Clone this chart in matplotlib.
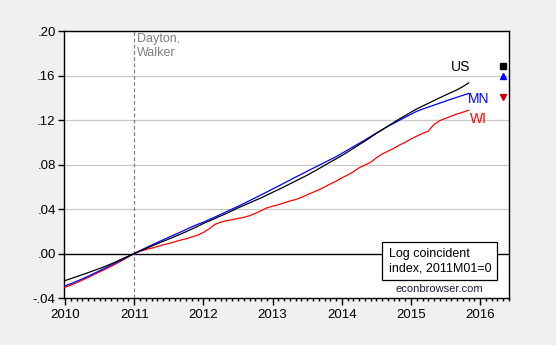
import numpy as np
import matplotlib
matplotlib.use("Agg")
import matplotlib.pyplot as plt
from matplotlib.ticker import FixedLocator, FuncFormatter
from matplotlib.patches import Rectangle

plt.rcParams['font.family'] = ['Liberation Sans', 'DejaVu Sans']

# Log coincident indexes, monthly 2010M01-2015M11, normalised so 2011M01 = 0
us = [
    -0.0243, -0.0226, -0.0208, -0.0190, -0.0172, -0.0153, -0.0135, -0.0115, -0.0093, -0.0070, -0.0046, -0.0023,
    0.0000, 0.0022, 0.0044, 0.0066, 0.0088, 0.0109, 0.0130, 0.0152, 0.0174, 0.0196, 0.0220, 0.0244,
    0.0270, 0.0292, 0.0315, 0.0338, 0.0360, 0.0385, 0.0410, 0.0432, 0.0455, 0.0478, 0.0500, 0.0525,
    0.0550, 0.0574, 0.0600, 0.0626, 0.0652, 0.0678, 0.0704, 0.0733, 0.0762, 0.0792, 0.0822, 0.0851,
    0.0880, 0.0912, 0.0945, 0.0978, 0.1010, 0.1045, 0.1080, 0.1112, 0.1145, 0.1178, 0.1210, 0.1240,
    0.1270, 0.1300, 0.1325, 0.1350, 0.1375, 0.1400, 0.1425, 0.1448, 0.1472, 0.1500, 0.1534,
]
mn = [
    -0.0290, -0.0272, -0.0250, -0.0228, -0.0205, -0.0180, -0.0155, -0.0130, -0.0104, -0.0078, -0.0052, -0.0026,
    0.0000, 0.0026, 0.0051, 0.0075, 0.0099, 0.0123, 0.0146, 0.0169, 0.0192, 0.0216, 0.0240, 0.0262,
    0.0282, 0.0305, 0.0328, 0.0352, 0.0376, 0.0400, 0.0424, 0.0449, 0.0475, 0.0501, 0.0527, 0.0553,
    0.0580, 0.0606, 0.0633, 0.0660, 0.0687, 0.0713, 0.0740, 0.0766, 0.0792, 0.0818, 0.0844, 0.0870,
    0.0900, 0.0930, 0.0960, 0.0990, 0.1020, 0.1052, 0.1083, 0.1113, 0.1143, 0.1170, 0.1198, 0.1225,
    0.1252, 0.1278, 0.1298, 0.1316, 0.1334, 0.1352, 0.1370, 0.1388, 0.1405, 0.1422, 0.1438,
]
wi = [
    -0.0303, -0.0285, -0.0262, -0.0240, -0.0215, -0.0190, -0.0165, -0.0140, -0.0115, -0.0088, -0.0060, -0.0030,
    0.0000, 0.0020, 0.0035, 0.0048, 0.0062, 0.0078, 0.0090, 0.0105, 0.0120, 0.0132, 0.0150, 0.0165,
    0.0190, 0.0222, 0.0262, 0.0282, 0.0295, 0.0305, 0.0315, 0.0325, 0.0340, 0.0360, 0.0385, 0.0410,
    0.0425, 0.0438, 0.0455, 0.0472, 0.0485, 0.0505, 0.0528, 0.0550, 0.0572, 0.0598, 0.0625, 0.0650,
    0.0680, 0.0705, 0.0735, 0.0770, 0.0795, 0.0820, 0.0860, 0.0895, 0.0920, 0.0945, 0.0975, 0.1000,
    0.1030, 0.1055, 0.1080, 0.1100, 0.1160, 0.1195, 0.1215, 0.1235, 0.1255, 0.1270, 0.1288,
]
months = 2010 + np.arange(len(us)) / 12.0

# six-month-ahead forecast points, 2016M05
fc_date = 2016 + 4 / 12.0
fc_us, fc_mn, fc_wi = 0.169, 0.160, 0.1407

years = [2010, 2011, 2012, 2013, 2014, 2015, 2016]
yticks = [-0.04, 0.00, 0.04, 0.08, 0.12, 0.16, 0.20]

fig = plt.figure(figsize=(5.56, 3.45), dpi=100, facecolor='#F0F0F0')
ax = fig.add_axes([0.1151, 0.1362, 0.8004, 0.7739])
ax.set_facecolor('white')

ax.set_xlim(2010 - 0.015, 2016 + 5 / 12.0)
ax.set_ylim(-0.04, 0.20)

# horizontal grid, zero line and the Jan 2011 marker
for yv in yticks[2:]:
    ax.axhline(yv, color='#C8C8C8', lw=0.9, zorder=1)
ax.axhline(0, color='black', lw=1.0, zorder=2)
ax.axvline(2011, color='#808080', lw=0.9, ls=(0, (3, 2)), zorder=2)

ax.plot(months, wi, color='#FF0000', lw=0.9, zorder=3)
ax.plot(months, mn, color='#0000FF', lw=0.9, zorder=4)
ax.plot(months, us, color='black', lw=0.9, zorder=5)

ax.plot([fc_date], [fc_us], marker='s', color='black', ms=3.8, ls='none')
ax.plot([fc_date], [fc_mn], marker='^', color='#0000FF', ms=4.2, ls='none')
ax.plot([fc_date], [fc_wi], marker='v', color='#CC0000', ms=4.2, ls='none')

ax.text(2015.71, 0.1675, 'US', color='black', fontsize=10, ha='center', va='center')
ax.text(2015.98, 0.1387, 'MN', color='#0000FF', fontsize=10, ha='center', va='center')
ax.text(2015.98, 0.121, 'WI', color='#FF0000', fontsize=10, ha='center', va='center')

ax.text(2011.04, 0.198, 'Dayton,\nWalker', color='#808080', fontsize=9,
        ha='left', va='top', linespacing=1.15)

# note box
box = Rectangle((0.715, 0.068), 0.258, 0.142, transform=ax.transAxes,
                facecolor='white', edgecolor='black', lw=0.9, zorder=6)
ax.add_patch(box)
ax.text(0.731, 0.139, 'Log coincident\nindex, 2011M01=0', transform=ax.transAxes,
        fontsize=9, ha='left', va='center', linespacing=1.25, zorder=7)
ax.text(0.843, 0.034, 'econbrowser.com', transform=ax.transAxes,
        fontsize=8, ha='center', va='center', color='#1A1A40', zorder=7)

# axes styling
for s in ax.spines.values():
    s.set_color('black')
    s.set_linewidth(1.0)

ax.xaxis.set_major_locator(FixedLocator(years))
ax.xaxis.set_minor_locator(FixedLocator(2010 + np.arange(0, 78) / 12.0))
ax.set_xticklabels([str(y) for y in years])
ax.yaxis.set_major_locator(FixedLocator(yticks))
ax.yaxis.set_major_formatter(FuncFormatter(
    lambda v, p: ('%.2f' % v).replace('0.', '.', 1) if abs(v) > 1e-9 else '.00'))

ax.tick_params(axis='x', which='major', direction='out', length=5, width=1,
               labelsize=9.5, pad=3, top=False)
ax.tick_params(axis='x', which='minor', direction='out', length=2.5, width=1, top=False)
ax.tick_params(axis='y', which='major', direction='out', length=4, width=1,
               labelsize=9.5, pad=2, right=False)

fig.savefig('out.png', dpi=100, facecolor=fig.get_facecolor())
